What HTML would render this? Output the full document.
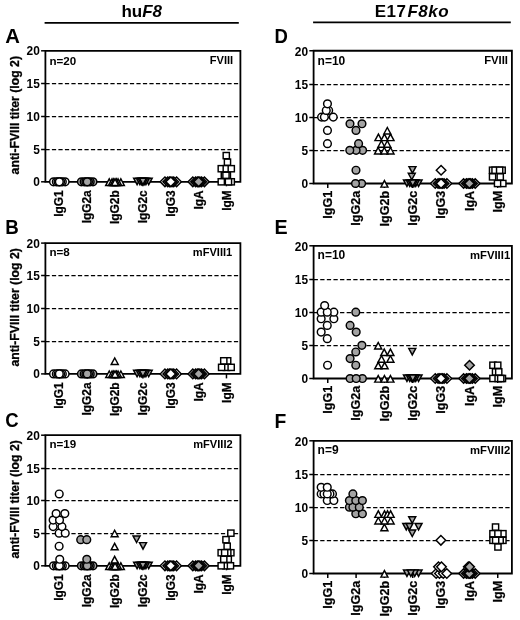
<!DOCTYPE html>
<html lang="en"><head><meta charset="utf-8"><title>anti-FVIII titers</title>
<style>html,body{margin:0;padding:0;background:#fff}svg{display:block;filter:blur(0.3px)}</style></head>
<body>
<svg width="520" height="620" viewBox="0 0 520 620" font-family="'Liberation Sans', Arial, sans-serif" font-weight="bold" fill="#000">
<rect width="520" height="620" fill="#fff"/>
<line x1="44.6" y1="22.85" x2="238.8" y2="22.85" stroke="#000" stroke-width="1.8"/>
<line x1="313.1" y1="22.4" x2="510.8" y2="22.4" stroke="#000" stroke-width="1.8"/>
<text x="141.7" y="17" text-anchor="middle" font-size="17">hu<tspan font-style="italic">F8</tspan></text>
<text x="411.9" y="16.6" text-anchor="middle" font-size="17" letter-spacing="0.5">E17<tspan font-style="italic" dx="1">F8ko</tspan></text>
<line x1="45.40" y1="149.50" x2="238.90" y2="149.50" stroke="#000" stroke-width="1.25" stroke-dasharray="4.23 2.27"/>
<line x1="45.40" y1="116.50" x2="238.90" y2="116.50" stroke="#000" stroke-width="1.25" stroke-dasharray="4.23 2.27"/>
<line x1="45.40" y1="83.50" x2="238.90" y2="83.50" stroke="#000" stroke-width="1.25" stroke-dasharray="4.23 2.27"/>
<path d="M45.40 181.80L45.40 50.80L240.40 50.80L240.40 181.80Z" fill="none" stroke="#000" stroke-width="1.8"/>
<line x1="41.10" y1="181.80" x2="45.40" y2="181.80" stroke="#000" stroke-width="1.5"/>
<text x="39.80" y="186.35" text-anchor="end" font-size="11.9">0</text>
<line x1="41.10" y1="149.50" x2="45.40" y2="149.50" stroke="#000" stroke-width="1.5"/>
<text x="39.80" y="154.05" text-anchor="end" font-size="11.9">5</text>
<line x1="41.10" y1="116.50" x2="45.40" y2="116.50" stroke="#000" stroke-width="1.5"/>
<text x="39.80" y="121.05" text-anchor="end" font-size="11.9">10</text>
<line x1="41.10" y1="83.50" x2="45.40" y2="83.50" stroke="#000" stroke-width="1.5"/>
<text x="39.80" y="88.05" text-anchor="end" font-size="11.9">15</text>
<line x1="41.10" y1="50.80" x2="45.40" y2="50.80" stroke="#000" stroke-width="1.5"/>
<text x="39.80" y="55.35" text-anchor="end" font-size="11.9">20</text>
<line x1="59.33" y1="181.80" x2="59.33" y2="186.30" stroke="#000" stroke-width="1.5"/>
<text transform="translate(63.43 190.30) rotate(-90)" text-anchor="end" font-size="11.9" stroke="#000" stroke-width="0.25">IgG1</text>
<line x1="87.19" y1="181.80" x2="87.19" y2="186.30" stroke="#000" stroke-width="1.5"/>
<text transform="translate(91.29 190.30) rotate(-90)" text-anchor="end" font-size="11.9" stroke="#000" stroke-width="0.25">IgG2a</text>
<line x1="115.04" y1="181.80" x2="115.04" y2="186.30" stroke="#000" stroke-width="1.5"/>
<text transform="translate(119.15 190.30) rotate(-90)" text-anchor="end" font-size="11.9" stroke="#000" stroke-width="0.25">IgG2b</text>
<line x1="142.90" y1="181.80" x2="142.90" y2="186.30" stroke="#000" stroke-width="1.5"/>
<text transform="translate(147.01 190.30) rotate(-90)" text-anchor="end" font-size="11.9" stroke="#000" stroke-width="0.25">IgG2c</text>
<line x1="170.76" y1="181.80" x2="170.76" y2="186.30" stroke="#000" stroke-width="1.5"/>
<text transform="translate(174.86 190.30) rotate(-90)" text-anchor="end" font-size="11.9" stroke="#000" stroke-width="0.25">IgG3</text>
<line x1="198.61" y1="181.80" x2="198.61" y2="186.30" stroke="#000" stroke-width="1.5"/>
<text transform="translate(202.72 190.30) rotate(-90)" text-anchor="end" font-size="11.9" stroke="#000" stroke-width="0.25">IgA</text>
<line x1="226.47" y1="181.80" x2="226.47" y2="186.30" stroke="#000" stroke-width="1.5"/>
<text transform="translate(230.58 190.30) rotate(-90)" text-anchor="end" font-size="11.9" stroke="#000" stroke-width="0.25">IgM</text>
<text transform="translate(18.90 115.20) rotate(-90)" text-anchor="middle" font-size="12.25" stroke="#000" stroke-width="0.3">anti-FVIII titer (log 2)</text>
<text x="49.40" y="64.60" font-size="11.6">n=20</text>
<text x="233.20" y="64.00" text-anchor="end" font-size="11.1">FVIII</text>
<text transform="translate(5.20 42.75) scale(1.05 1)" font-size="19.3">A</text>
<g stroke="#000" stroke-width="1.45" stroke-linejoin="miter">
<circle cx="53.53" cy="181.80" r="3.85" fill="#fff"/>
<circle cx="65.13" cy="181.80" r="3.85" fill="#fff"/>
<circle cx="56.33" cy="181.80" r="3.85" fill="#fff"/>
<circle cx="62.33" cy="181.80" r="3.85" fill="#fff"/>
<circle cx="58.03" cy="181.80" r="3.85" fill="#fff"/>
<circle cx="60.63" cy="181.80" r="3.85" fill="#fff"/>
<circle cx="59.33" cy="181.80" r="3.85" fill="#fff"/>
<circle cx="81.39" cy="181.80" r="3.85" fill="#a3a3a3"/>
<circle cx="92.99" cy="181.80" r="3.85" fill="#a3a3a3"/>
<circle cx="84.19" cy="181.80" r="3.85" fill="#a3a3a3"/>
<circle cx="90.19" cy="181.80" r="3.85" fill="#a3a3a3"/>
<circle cx="85.89" cy="181.80" r="3.85" fill="#a3a3a3"/>
<circle cx="88.49" cy="181.80" r="3.85" fill="#a3a3a3"/>
<circle cx="87.19" cy="181.80" r="3.85" fill="#a3a3a3"/>
<path d="M105.74 185.40L109.24 178.90L112.74 185.40Z" fill="#fff"/>
<path d="M117.34 185.40L120.84 178.90L124.34 185.40Z" fill="#fff"/>
<path d="M108.54 185.40L112.04 178.90L115.54 185.40Z" fill="#fff"/>
<path d="M114.54 185.40L118.04 178.90L121.54 185.40Z" fill="#fff"/>
<path d="M110.24 185.40L113.74 178.90L117.24 185.40Z" fill="#fff"/>
<path d="M112.84 185.40L116.34 178.90L119.84 185.40Z" fill="#fff"/>
<path d="M111.54 185.40L115.04 178.90L118.54 185.40Z" fill="#fff"/>
<path d="M133.60 178.20L137.10 184.70L140.60 178.20Z" fill="#a3a3a3"/>
<path d="M145.20 178.20L148.70 184.70L152.20 178.20Z" fill="#a3a3a3"/>
<path d="M136.40 178.20L139.90 184.70L143.40 178.20Z" fill="#a3a3a3"/>
<path d="M142.40 178.20L145.90 184.70L149.40 178.20Z" fill="#a3a3a3"/>
<path d="M138.10 178.20L141.60 184.70L145.10 178.20Z" fill="#a3a3a3"/>
<path d="M140.70 178.20L144.20 184.70L147.70 178.20Z" fill="#a3a3a3"/>
<path d="M139.40 178.20L142.90 184.70L146.40 178.20Z" fill="#a3a3a3"/>
<path d="M160.16 181.80L164.96 177.00L169.76 181.80L164.96 186.60Z" fill="#fff"/>
<path d="M171.76 181.80L176.56 177.00L181.36 181.80L176.56 186.60Z" fill="#fff"/>
<path d="M162.96 181.80L167.76 177.00L172.56 181.80L167.76 186.60Z" fill="#fff"/>
<path d="M168.96 181.80L173.76 177.00L178.56 181.80L173.76 186.60Z" fill="#fff"/>
<path d="M164.66 181.80L169.46 177.00L174.26 181.80L169.46 186.60Z" fill="#fff"/>
<path d="M167.26 181.80L172.06 177.00L176.86 181.80L172.06 186.60Z" fill="#fff"/>
<path d="M165.96 181.80L170.76 177.00L175.56 181.80L170.76 186.60Z" fill="#fff"/>
<path d="M188.01 181.80L192.81 177.00L197.61 181.80L192.81 186.60Z" fill="#a3a3a3"/>
<path d="M199.61 181.80L204.41 177.00L209.21 181.80L204.41 186.60Z" fill="#a3a3a3"/>
<path d="M190.81 181.80L195.61 177.00L200.41 181.80L195.61 186.60Z" fill="#a3a3a3"/>
<path d="M196.81 181.80L201.61 177.00L206.41 181.80L201.61 186.60Z" fill="#a3a3a3"/>
<path d="M192.51 181.80L197.31 177.00L202.11 181.80L197.31 186.60Z" fill="#a3a3a3"/>
<path d="M195.11 181.80L199.91 177.00L204.71 181.80L199.91 186.60Z" fill="#a3a3a3"/>
<path d="M193.81 181.80L198.61 177.00L203.41 181.80L198.61 186.60Z" fill="#a3a3a3"/>
<rect x="228.17" y="178.70" width="6.2" height="6.2" fill="#fff"/>
<rect x="225.37" y="178.70" width="6.2" height="6.2" fill="#fff"/>
<rect x="218.17" y="178.70" width="6.2" height="6.2" fill="#fff"/>
<rect x="221.27" y="172.15" width="6.2" height="6.2" fill="#fff"/>
<rect x="224.27" y="172.15" width="6.2" height="6.2" fill="#fff"/>
<rect x="222.87" y="172.15" width="6.2" height="6.2" fill="#fff"/>
<rect x="218.17" y="165.60" width="6.2" height="6.2" fill="#fff"/>
<rect x="223.17" y="165.60" width="6.2" height="6.2" fill="#fff"/>
<rect x="228.17" y="165.60" width="6.2" height="6.2" fill="#fff"/>
<rect x="224.37" y="159.05" width="6.2" height="6.2" fill="#fff"/>
<rect x="223.17" y="152.50" width="6.2" height="6.2" fill="#fff"/>
</g>
<line x1="45.40" y1="341.50" x2="238.90" y2="341.50" stroke="#000" stroke-width="1.25" stroke-dasharray="4.23 2.27"/>
<line x1="45.40" y1="308.50" x2="238.90" y2="308.50" stroke="#000" stroke-width="1.25" stroke-dasharray="4.23 2.27"/>
<line x1="45.40" y1="275.50" x2="238.90" y2="275.50" stroke="#000" stroke-width="1.25" stroke-dasharray="4.23 2.27"/>
<path d="M45.40 373.90L45.40 243.10L240.40 243.10L240.40 373.90Z" fill="none" stroke="#000" stroke-width="1.8"/>
<line x1="41.10" y1="373.90" x2="45.40" y2="373.90" stroke="#000" stroke-width="1.5"/>
<text x="39.80" y="378.45" text-anchor="end" font-size="11.9">0</text>
<line x1="41.10" y1="341.50" x2="45.40" y2="341.50" stroke="#000" stroke-width="1.5"/>
<text x="39.80" y="346.05" text-anchor="end" font-size="11.9">5</text>
<line x1="41.10" y1="308.50" x2="45.40" y2="308.50" stroke="#000" stroke-width="1.5"/>
<text x="39.80" y="313.05" text-anchor="end" font-size="11.9">10</text>
<line x1="41.10" y1="275.50" x2="45.40" y2="275.50" stroke="#000" stroke-width="1.5"/>
<text x="39.80" y="280.05" text-anchor="end" font-size="11.9">15</text>
<line x1="41.10" y1="243.10" x2="45.40" y2="243.10" stroke="#000" stroke-width="1.5"/>
<text x="39.80" y="247.65" text-anchor="end" font-size="11.9">20</text>
<line x1="59.33" y1="373.90" x2="59.33" y2="378.40" stroke="#000" stroke-width="1.5"/>
<text transform="translate(63.43 382.40) rotate(-90)" text-anchor="end" font-size="11.9" stroke="#000" stroke-width="0.25">IgG1</text>
<line x1="87.19" y1="373.90" x2="87.19" y2="378.40" stroke="#000" stroke-width="1.5"/>
<text transform="translate(91.29 382.40) rotate(-90)" text-anchor="end" font-size="11.9" stroke="#000" stroke-width="0.25">IgG2a</text>
<line x1="115.04" y1="373.90" x2="115.04" y2="378.40" stroke="#000" stroke-width="1.5"/>
<text transform="translate(119.15 382.40) rotate(-90)" text-anchor="end" font-size="11.9" stroke="#000" stroke-width="0.25">IgG2b</text>
<line x1="142.90" y1="373.90" x2="142.90" y2="378.40" stroke="#000" stroke-width="1.5"/>
<text transform="translate(147.01 382.40) rotate(-90)" text-anchor="end" font-size="11.9" stroke="#000" stroke-width="0.25">IgG2c</text>
<line x1="170.76" y1="373.90" x2="170.76" y2="378.40" stroke="#000" stroke-width="1.5"/>
<text transform="translate(174.86 382.40) rotate(-90)" text-anchor="end" font-size="11.9" stroke="#000" stroke-width="0.25">IgG3</text>
<line x1="198.61" y1="373.90" x2="198.61" y2="378.40" stroke="#000" stroke-width="1.5"/>
<text transform="translate(202.72 382.40) rotate(-90)" text-anchor="end" font-size="11.9" stroke="#000" stroke-width="0.25">IgA</text>
<line x1="226.47" y1="373.90" x2="226.47" y2="378.40" stroke="#000" stroke-width="1.5"/>
<text transform="translate(230.58 382.40) rotate(-90)" text-anchor="end" font-size="11.9" stroke="#000" stroke-width="0.25">IgM</text>
<text transform="translate(18.90 307.40) rotate(-90)" text-anchor="middle" font-size="12.25" stroke="#000" stroke-width="0.3">anti-FVIII titer (log 2)</text>
<text x="49.40" y="255.70" font-size="11.6">n=8</text>
<text x="232.30" y="256.30" text-anchor="end" font-size="11.1">mFVIII1</text>
<text transform="translate(5.20 234.10) scale(0.97 1)" font-size="19.3">B</text>
<g stroke="#000" stroke-width="1.45" stroke-linejoin="miter">
<circle cx="53.53" cy="373.90" r="3.85" fill="#fff"/>
<circle cx="65.13" cy="373.90" r="3.85" fill="#fff"/>
<circle cx="56.33" cy="373.90" r="3.85" fill="#fff"/>
<circle cx="62.33" cy="373.90" r="3.85" fill="#fff"/>
<circle cx="58.03" cy="373.90" r="3.85" fill="#fff"/>
<circle cx="60.63" cy="373.90" r="3.85" fill="#fff"/>
<circle cx="59.33" cy="373.90" r="3.85" fill="#fff"/>
<circle cx="81.39" cy="373.90" r="3.85" fill="#a3a3a3"/>
<circle cx="92.99" cy="373.90" r="3.85" fill="#a3a3a3"/>
<circle cx="84.19" cy="373.90" r="3.85" fill="#a3a3a3"/>
<circle cx="90.19" cy="373.90" r="3.85" fill="#a3a3a3"/>
<circle cx="85.89" cy="373.90" r="3.85" fill="#a3a3a3"/>
<circle cx="88.49" cy="373.90" r="3.85" fill="#a3a3a3"/>
<circle cx="87.19" cy="373.90" r="3.85" fill="#a3a3a3"/>
<path d="M105.74 377.50L109.24 371.00L112.74 377.50Z" fill="#fff"/>
<path d="M117.34 377.50L120.84 371.00L124.34 377.50Z" fill="#fff"/>
<path d="M108.54 377.50L112.04 371.00L115.54 377.50Z" fill="#fff"/>
<path d="M114.54 377.50L118.04 371.00L121.54 377.50Z" fill="#fff"/>
<path d="M110.24 377.50L113.74 371.00L117.24 377.50Z" fill="#fff"/>
<path d="M112.84 377.50L116.34 371.00L119.84 377.50Z" fill="#fff"/>
<path d="M111.54 377.50L115.04 371.00L118.54 377.50Z" fill="#fff"/>
<path d="M111.24 364.42L114.74 357.92L118.24 364.42Z" fill="#fff"/>
<path d="M133.60 370.30L137.10 376.80L140.60 370.30Z" fill="#a3a3a3"/>
<path d="M145.20 370.30L148.70 376.80L152.20 370.30Z" fill="#a3a3a3"/>
<path d="M136.40 370.30L139.90 376.80L143.40 370.30Z" fill="#a3a3a3"/>
<path d="M142.40 370.30L145.90 376.80L149.40 370.30Z" fill="#a3a3a3"/>
<path d="M138.10 370.30L141.60 376.80L145.10 370.30Z" fill="#a3a3a3"/>
<path d="M140.70 370.30L144.20 376.80L147.70 370.30Z" fill="#a3a3a3"/>
<path d="M139.40 370.30L142.90 376.80L146.40 370.30Z" fill="#a3a3a3"/>
<path d="M160.16 373.90L164.96 369.10L169.76 373.90L164.96 378.70Z" fill="#fff"/>
<path d="M171.76 373.90L176.56 369.10L181.36 373.90L176.56 378.70Z" fill="#fff"/>
<path d="M162.96 373.90L167.76 369.10L172.56 373.90L167.76 378.70Z" fill="#fff"/>
<path d="M168.96 373.90L173.76 369.10L178.56 373.90L173.76 378.70Z" fill="#fff"/>
<path d="M164.66 373.90L169.46 369.10L174.26 373.90L169.46 378.70Z" fill="#fff"/>
<path d="M167.26 373.90L172.06 369.10L176.86 373.90L172.06 378.70Z" fill="#fff"/>
<path d="M165.96 373.90L170.76 369.10L175.56 373.90L170.76 378.70Z" fill="#fff"/>
<path d="M188.01 373.90L192.81 369.10L197.61 373.90L192.81 378.70Z" fill="#a3a3a3"/>
<path d="M199.61 373.90L204.41 369.10L209.21 373.90L204.41 378.70Z" fill="#a3a3a3"/>
<path d="M190.81 373.90L195.61 369.10L200.41 373.90L195.61 378.70Z" fill="#a3a3a3"/>
<path d="M196.81 373.90L201.61 369.10L206.41 373.90L201.61 378.70Z" fill="#a3a3a3"/>
<path d="M192.51 373.90L197.31 369.10L202.11 373.90L197.31 378.70Z" fill="#a3a3a3"/>
<path d="M195.11 373.90L199.91 369.10L204.71 373.90L199.91 378.70Z" fill="#a3a3a3"/>
<path d="M193.81 373.90L198.61 369.10L203.41 373.90L198.61 378.70Z" fill="#a3a3a3"/>
<rect x="223.27" y="364.26" width="6.2" height="6.2" fill="#fff"/>
<rect x="218.52" y="364.26" width="6.2" height="6.2" fill="#fff"/>
<rect x="228.07" y="364.26" width="6.2" height="6.2" fill="#fff"/>
<rect x="224.57" y="357.72" width="6.2" height="6.2" fill="#fff"/>
<rect x="220.67" y="357.72" width="6.2" height="6.2" fill="#fff"/>
</g>
<line x1="45.40" y1="533.50" x2="238.90" y2="533.50" stroke="#000" stroke-width="1.25" stroke-dasharray="4.23 2.27"/>
<line x1="45.40" y1="500.50" x2="238.90" y2="500.50" stroke="#000" stroke-width="1.25" stroke-dasharray="4.23 2.27"/>
<line x1="45.40" y1="468.50" x2="238.90" y2="468.50" stroke="#000" stroke-width="1.25" stroke-dasharray="4.23 2.27"/>
<path d="M45.40 565.80L45.40 435.20L240.40 435.20L240.40 565.80Z" fill="none" stroke="#000" stroke-width="1.8"/>
<line x1="41.10" y1="565.80" x2="45.40" y2="565.80" stroke="#000" stroke-width="1.5"/>
<text x="39.80" y="570.35" text-anchor="end" font-size="11.9">0</text>
<line x1="41.10" y1="533.50" x2="45.40" y2="533.50" stroke="#000" stroke-width="1.5"/>
<text x="39.80" y="538.05" text-anchor="end" font-size="11.9">5</text>
<line x1="41.10" y1="500.50" x2="45.40" y2="500.50" stroke="#000" stroke-width="1.5"/>
<text x="39.80" y="505.05" text-anchor="end" font-size="11.9">10</text>
<line x1="41.10" y1="468.50" x2="45.40" y2="468.50" stroke="#000" stroke-width="1.5"/>
<text x="39.80" y="473.05" text-anchor="end" font-size="11.9">15</text>
<line x1="41.10" y1="435.20" x2="45.40" y2="435.20" stroke="#000" stroke-width="1.5"/>
<text x="39.80" y="439.75" text-anchor="end" font-size="11.9">20</text>
<line x1="59.33" y1="565.80" x2="59.33" y2="570.30" stroke="#000" stroke-width="1.5"/>
<text transform="translate(63.43 574.30) rotate(-90)" text-anchor="end" font-size="11.9" stroke="#000" stroke-width="0.25">IgG1</text>
<line x1="87.19" y1="565.80" x2="87.19" y2="570.30" stroke="#000" stroke-width="1.5"/>
<text transform="translate(91.29 574.30) rotate(-90)" text-anchor="end" font-size="11.9" stroke="#000" stroke-width="0.25">IgG2a</text>
<line x1="115.04" y1="565.80" x2="115.04" y2="570.30" stroke="#000" stroke-width="1.5"/>
<text transform="translate(119.15 574.30) rotate(-90)" text-anchor="end" font-size="11.9" stroke="#000" stroke-width="0.25">IgG2b</text>
<line x1="142.90" y1="565.80" x2="142.90" y2="570.30" stroke="#000" stroke-width="1.5"/>
<text transform="translate(147.01 574.30) rotate(-90)" text-anchor="end" font-size="11.9" stroke="#000" stroke-width="0.25">IgG2c</text>
<line x1="170.76" y1="565.80" x2="170.76" y2="570.30" stroke="#000" stroke-width="1.5"/>
<text transform="translate(174.86 574.30) rotate(-90)" text-anchor="end" font-size="11.9" stroke="#000" stroke-width="0.25">IgG3</text>
<line x1="198.61" y1="565.80" x2="198.61" y2="570.30" stroke="#000" stroke-width="1.5"/>
<text transform="translate(202.72 574.30) rotate(-90)" text-anchor="end" font-size="11.9" stroke="#000" stroke-width="0.25">IgA</text>
<line x1="226.47" y1="565.80" x2="226.47" y2="570.30" stroke="#000" stroke-width="1.5"/>
<text transform="translate(230.58 574.30) rotate(-90)" text-anchor="end" font-size="11.9" stroke="#000" stroke-width="0.25">IgM</text>
<text transform="translate(18.90 499.40) rotate(-90)" text-anchor="middle" font-size="12.25" stroke="#000" stroke-width="0.3">anti-FVIII titer (log 2)</text>
<text x="49.40" y="447.80" font-size="11.6">n=19</text>
<text x="232.70" y="448.40" text-anchor="end" font-size="11.1">mFVIII2</text>
<text transform="translate(5.20 427.40) scale(0.96 1)" font-size="19.3">C</text>
<g stroke="#000" stroke-width="1.45" stroke-linejoin="miter">
<circle cx="53.53" cy="565.80" r="3.85" fill="#fff"/>
<circle cx="65.13" cy="565.80" r="3.85" fill="#fff"/>
<circle cx="56.33" cy="565.80" r="3.85" fill="#fff"/>
<circle cx="62.33" cy="565.80" r="3.85" fill="#fff"/>
<circle cx="58.03" cy="565.80" r="3.85" fill="#fff"/>
<circle cx="60.63" cy="565.80" r="3.85" fill="#fff"/>
<circle cx="59.33" cy="565.80" r="3.85" fill="#fff"/>
<circle cx="59.73" cy="559.27" r="3.85" fill="#fff"/>
<circle cx="59.13" cy="546.21" r="3.85" fill="#fff"/>
<circle cx="59.13" cy="533.15" r="3.85" fill="#fff"/>
<circle cx="65.23" cy="533.15" r="3.85" fill="#fff"/>
<circle cx="53.13" cy="526.62" r="3.85" fill="#fff"/>
<circle cx="61.93" cy="526.62" r="3.85" fill="#fff"/>
<circle cx="53.13" cy="520.09" r="3.85" fill="#fff"/>
<circle cx="59.53" cy="520.09" r="3.85" fill="#fff"/>
<circle cx="56.13" cy="513.56" r="3.85" fill="#fff"/>
<circle cx="64.83" cy="513.56" r="3.85" fill="#fff"/>
<circle cx="59.23" cy="493.97" r="3.85" fill="#fff"/>
<circle cx="81.39" cy="565.80" r="3.85" fill="#a3a3a3"/>
<circle cx="92.99" cy="565.80" r="3.85" fill="#a3a3a3"/>
<circle cx="84.19" cy="565.80" r="3.85" fill="#a3a3a3"/>
<circle cx="90.19" cy="565.80" r="3.85" fill="#a3a3a3"/>
<circle cx="85.89" cy="565.80" r="3.85" fill="#a3a3a3"/>
<circle cx="88.49" cy="565.80" r="3.85" fill="#a3a3a3"/>
<circle cx="87.19" cy="565.80" r="3.85" fill="#a3a3a3"/>
<circle cx="86.79" cy="559.27" r="3.85" fill="#a3a3a3"/>
<circle cx="80.69" cy="539.68" r="3.85" fill="#a3a3a3"/>
<circle cx="86.79" cy="539.68" r="3.85" fill="#a3a3a3"/>
<path d="M105.74 569.40L109.24 562.90L112.74 569.40Z" fill="#fff"/>
<path d="M117.34 569.40L120.84 562.90L124.34 569.40Z" fill="#fff"/>
<path d="M108.54 569.40L112.04 562.90L115.54 569.40Z" fill="#fff"/>
<path d="M114.54 569.40L118.04 562.90L121.54 569.40Z" fill="#fff"/>
<path d="M110.24 569.40L113.74 562.90L117.24 569.40Z" fill="#fff"/>
<path d="M112.84 569.40L116.34 562.90L119.84 569.40Z" fill="#fff"/>
<path d="M111.54 569.40L115.04 562.90L118.54 569.40Z" fill="#fff"/>
<path d="M111.14 562.87L114.64 556.37L118.14 562.87Z" fill="#fff"/>
<path d="M111.14 549.81L114.64 543.31L118.14 549.81Z" fill="#fff"/>
<path d="M111.14 536.75L114.64 530.25L118.14 536.75Z" fill="#fff"/>
<path d="M133.60 562.20L137.10 568.70L140.60 562.20Z" fill="#a3a3a3"/>
<path d="M145.20 562.20L148.70 568.70L152.20 562.20Z" fill="#a3a3a3"/>
<path d="M136.40 562.20L139.90 568.70L143.40 562.20Z" fill="#a3a3a3"/>
<path d="M142.40 562.20L145.90 568.70L149.40 562.20Z" fill="#a3a3a3"/>
<path d="M138.10 562.20L141.60 568.70L145.10 562.20Z" fill="#a3a3a3"/>
<path d="M140.70 562.20L144.20 568.70L147.70 562.20Z" fill="#a3a3a3"/>
<path d="M139.40 562.20L142.90 568.70L146.40 562.20Z" fill="#a3a3a3"/>
<path d="M139.50 542.61L143.00 549.11L146.50 542.61Z" fill="#a3a3a3"/>
<path d="M133.10 536.08L136.60 542.58L140.10 536.08Z" fill="#a3a3a3"/>
<path d="M160.16 565.80L164.96 561.00L169.76 565.80L164.96 570.60Z" fill="#fff"/>
<path d="M171.76 565.80L176.56 561.00L181.36 565.80L176.56 570.60Z" fill="#fff"/>
<path d="M162.96 565.80L167.76 561.00L172.56 565.80L167.76 570.60Z" fill="#fff"/>
<path d="M168.96 565.80L173.76 561.00L178.56 565.80L173.76 570.60Z" fill="#fff"/>
<path d="M164.66 565.80L169.46 561.00L174.26 565.80L169.46 570.60Z" fill="#fff"/>
<path d="M167.26 565.80L172.06 561.00L176.86 565.80L172.06 570.60Z" fill="#fff"/>
<path d="M165.96 565.80L170.76 561.00L175.56 565.80L170.76 570.60Z" fill="#fff"/>
<path d="M188.01 565.80L192.81 561.00L197.61 565.80L192.81 570.60Z" fill="#a3a3a3"/>
<path d="M199.61 565.80L204.41 561.00L209.21 565.80L204.41 570.60Z" fill="#a3a3a3"/>
<path d="M190.81 565.80L195.61 561.00L200.41 565.80L195.61 570.60Z" fill="#a3a3a3"/>
<path d="M196.81 565.80L201.61 561.00L206.41 565.80L201.61 570.60Z" fill="#a3a3a3"/>
<path d="M192.51 565.80L197.31 561.00L202.11 565.80L197.31 570.60Z" fill="#a3a3a3"/>
<path d="M195.11 565.80L199.91 561.00L204.71 565.80L199.91 570.60Z" fill="#a3a3a3"/>
<path d="M193.81 565.80L198.61 561.00L203.41 565.80L198.61 570.60Z" fill="#a3a3a3"/>
<rect x="222.87" y="562.70" width="6.2" height="6.2" fill="#fff"/>
<rect x="218.07" y="562.70" width="6.2" height="6.2" fill="#fff"/>
<rect x="227.37" y="562.70" width="6.2" height="6.2" fill="#fff"/>
<rect x="225.17" y="556.17" width="6.2" height="6.2" fill="#fff"/>
<rect x="220.67" y="556.17" width="6.2" height="6.2" fill="#fff"/>
<rect x="218.07" y="549.64" width="6.2" height="6.2" fill="#fff"/>
<rect x="227.77" y="549.64" width="6.2" height="6.2" fill="#fff"/>
<rect x="224.67" y="549.64" width="6.2" height="6.2" fill="#fff"/>
<rect x="221.57" y="549.64" width="6.2" height="6.2" fill="#fff"/>
<rect x="224.07" y="543.11" width="6.2" height="6.2" fill="#fff"/>
<rect x="222.87" y="536.58" width="6.2" height="6.2" fill="#fff"/>
<rect x="227.77" y="530.05" width="6.2" height="6.2" fill="#fff"/>
</g>
<line x1="313.60" y1="150.50" x2="510.40" y2="150.50" stroke="#000" stroke-width="1.25" stroke-dasharray="4.30 2.31"/>
<line x1="313.60" y1="117.50" x2="510.40" y2="117.50" stroke="#000" stroke-width="1.25" stroke-dasharray="4.30 2.31"/>
<line x1="313.60" y1="84.50" x2="510.40" y2="84.50" stroke="#000" stroke-width="1.25" stroke-dasharray="4.30 2.31"/>
<path d="M313.60 183.50L313.60 50.75L511.90 50.75L511.90 183.50Z" fill="none" stroke="#000" stroke-width="1.8"/>
<line x1="309.30" y1="183.50" x2="313.60" y2="183.50" stroke="#000" stroke-width="1.5"/>
<text x="308.00" y="188.45" text-anchor="end" font-size="11.9">0</text>
<line x1="309.30" y1="150.50" x2="313.60" y2="150.50" stroke="#000" stroke-width="1.5"/>
<text x="308.00" y="155.45" text-anchor="end" font-size="11.9">5</text>
<line x1="309.30" y1="117.50" x2="313.60" y2="117.50" stroke="#000" stroke-width="1.5"/>
<text x="308.00" y="122.45" text-anchor="end" font-size="11.9">10</text>
<line x1="309.30" y1="84.50" x2="313.60" y2="84.50" stroke="#000" stroke-width="1.5"/>
<text x="308.00" y="89.45" text-anchor="end" font-size="11.9">15</text>
<line x1="309.30" y1="50.75" x2="313.60" y2="50.75" stroke="#000" stroke-width="1.5"/>
<text x="308.00" y="55.70" text-anchor="end" font-size="11.9">20</text>
<line x1="327.76" y1="183.50" x2="327.76" y2="188.00" stroke="#000" stroke-width="1.5"/>
<text transform="translate(332.11 190.80) rotate(-90)" text-anchor="end" font-size="12.6" stroke="#000" stroke-width="0.25">IgG1</text>
<line x1="356.09" y1="183.50" x2="356.09" y2="188.00" stroke="#000" stroke-width="1.5"/>
<text transform="translate(360.44 190.80) rotate(-90)" text-anchor="end" font-size="12.6" stroke="#000" stroke-width="0.25">IgG2a</text>
<line x1="384.42" y1="183.50" x2="384.42" y2="188.00" stroke="#000" stroke-width="1.5"/>
<text transform="translate(388.77 190.80) rotate(-90)" text-anchor="end" font-size="12.6" stroke="#000" stroke-width="0.25">IgG2b</text>
<line x1="412.75" y1="183.50" x2="412.75" y2="188.00" stroke="#000" stroke-width="1.5"/>
<text transform="translate(417.10 190.80) rotate(-90)" text-anchor="end" font-size="12.6" stroke="#000" stroke-width="0.25">IgG2c</text>
<line x1="441.08" y1="183.50" x2="441.08" y2="188.00" stroke="#000" stroke-width="1.5"/>
<text transform="translate(445.43 190.80) rotate(-90)" text-anchor="end" font-size="12.6" stroke="#000" stroke-width="0.25">IgG3</text>
<line x1="469.41" y1="183.50" x2="469.41" y2="188.00" stroke="#000" stroke-width="1.5"/>
<text transform="translate(473.75 190.80) rotate(-90)" text-anchor="end" font-size="12.6" stroke="#000" stroke-width="0.25">IgA</text>
<line x1="497.74" y1="183.50" x2="497.74" y2="188.00" stroke="#000" stroke-width="1.5"/>
<text transform="translate(502.08 190.80) rotate(-90)" text-anchor="end" font-size="12.6" stroke="#000" stroke-width="0.25">IgM</text>
<text x="317.60" y="64.75" font-size="12.0">n=10</text>
<text x="508.00" y="63.95" text-anchor="end" font-size="11.3">FVIII</text>
<text transform="translate(274.60 42.85) scale(0.96 1)" font-size="19.3">D</text>
<g stroke="#000" stroke-width="1.45" stroke-linejoin="miter">
<circle cx="327.46" cy="143.68" r="3.85" fill="#fff"/>
<circle cx="327.46" cy="130.40" r="3.85" fill="#fff"/>
<circle cx="321.56" cy="117.12" r="3.85" fill="#fff"/>
<circle cx="324.36" cy="117.12" r="3.85" fill="#fff"/>
<circle cx="333.26" cy="117.12" r="3.85" fill="#fff"/>
<circle cx="328.66" cy="110.49" r="3.85" fill="#fff"/>
<circle cx="326.26" cy="110.49" r="3.85" fill="#fff"/>
<circle cx="327.46" cy="103.85" r="3.85" fill="#fff"/>
<circle cx="361.59" cy="183.50" r="3.85" fill="#a3a3a3"/>
<circle cx="355.49" cy="183.50" r="3.85" fill="#a3a3a3"/>
<circle cx="355.99" cy="170.22" r="3.85" fill="#a3a3a3"/>
<circle cx="362.59" cy="150.31" r="3.85" fill="#a3a3a3"/>
<circle cx="356.09" cy="150.31" r="3.85" fill="#a3a3a3"/>
<circle cx="349.79" cy="150.31" r="3.85" fill="#a3a3a3"/>
<circle cx="358.59" cy="143.68" r="3.85" fill="#a3a3a3"/>
<circle cx="355.99" cy="130.40" r="3.85" fill="#a3a3a3"/>
<circle cx="349.99" cy="123.76" r="3.85" fill="#a3a3a3"/>
<circle cx="361.99" cy="123.76" r="3.85" fill="#a3a3a3"/>
<path d="M380.92 187.10L384.42 180.60L387.92 187.10Z" fill="#fff"/>
<path d="M374.62 153.91L378.12 147.41L381.62 153.91Z" fill="#fff"/>
<path d="M387.02 153.91L390.52 147.41L394.02 153.91Z" fill="#fff"/>
<path d="M380.82 153.91L384.32 147.41L387.82 153.91Z" fill="#fff"/>
<path d="M377.92 147.28L381.42 140.78L384.92 147.28Z" fill="#fff"/>
<path d="M383.82 147.28L387.32 140.78L390.82 147.28Z" fill="#fff"/>
<path d="M374.92 140.64L378.42 134.14L381.92 140.64Z" fill="#fff"/>
<path d="M380.92 140.64L384.42 134.14L387.92 140.64Z" fill="#fff"/>
<path d="M387.02 140.64L390.52 134.14L394.02 140.64Z" fill="#fff"/>
<path d="M383.82 134.00L387.32 127.50L390.82 134.00Z" fill="#fff"/>
<path d="M403.45 179.90L406.95 186.40L410.45 179.90Z" fill="#a3a3a3"/>
<path d="M415.05 179.90L418.55 186.40L422.05 179.90Z" fill="#a3a3a3"/>
<path d="M406.25 179.90L409.75 186.40L413.25 179.90Z" fill="#a3a3a3"/>
<path d="M412.25 179.90L415.75 186.40L419.25 179.90Z" fill="#a3a3a3"/>
<path d="M407.95 179.90L411.45 186.40L414.95 179.90Z" fill="#a3a3a3"/>
<path d="M410.55 179.90L414.05 186.40L417.55 179.90Z" fill="#a3a3a3"/>
<path d="M409.25 179.90L412.75 186.40L416.25 179.90Z" fill="#a3a3a3"/>
<path d="M408.25 173.26L411.75 179.76L415.25 173.26Z" fill="#a3a3a3"/>
<path d="M408.95 166.62L412.45 173.12L415.95 166.62Z" fill="#a3a3a3"/>
<path d="M430.48 183.50L435.28 178.70L440.08 183.50L435.28 188.30Z" fill="#fff"/>
<path d="M442.08 183.50L446.88 178.70L451.68 183.50L446.88 188.30Z" fill="#fff"/>
<path d="M433.28 183.50L438.08 178.70L442.88 183.50L438.08 188.30Z" fill="#fff"/>
<path d="M439.28 183.50L444.08 178.70L448.88 183.50L444.08 188.30Z" fill="#fff"/>
<path d="M434.98 183.50L439.78 178.70L444.58 183.50L439.78 188.30Z" fill="#fff"/>
<path d="M437.58 183.50L442.38 178.70L447.18 183.50L442.38 188.30Z" fill="#fff"/>
<path d="M436.28 183.50L441.08 178.70L445.88 183.50L441.08 188.30Z" fill="#fff"/>
<path d="M436.28 170.22L441.08 165.42L445.88 170.22L441.08 175.03Z" fill="#fff"/>
<path d="M458.81 183.50L463.61 178.70L468.41 183.50L463.61 188.30Z" fill="#a3a3a3"/>
<path d="M470.41 183.50L475.21 178.70L480.01 183.50L475.21 188.30Z" fill="#a3a3a3"/>
<path d="M461.61 183.50L466.41 178.70L471.21 183.50L466.41 188.30Z" fill="#a3a3a3"/>
<path d="M467.61 183.50L472.41 178.70L477.21 183.50L472.41 188.30Z" fill="#a3a3a3"/>
<path d="M463.31 183.50L468.11 178.70L472.91 183.50L468.11 188.30Z" fill="#a3a3a3"/>
<path d="M465.91 183.50L470.71 178.70L475.51 183.50L470.71 188.30Z" fill="#a3a3a3"/>
<path d="M464.61 183.50L469.41 178.70L474.21 183.50L469.41 188.30Z" fill="#a3a3a3"/>
<rect x="499.74" y="180.40" width="6.2" height="6.2" fill="#fff"/>
<rect x="494.44" y="180.40" width="6.2" height="6.2" fill="#fff"/>
<rect x="489.44" y="173.76" width="6.2" height="6.2" fill="#fff"/>
<rect x="497.14" y="173.76" width="6.2" height="6.2" fill="#fff"/>
<rect x="489.44" y="167.12" width="6.2" height="6.2" fill="#fff"/>
<rect x="491.94" y="167.12" width="6.2" height="6.2" fill="#fff"/>
<rect x="499.04" y="167.12" width="6.2" height="6.2" fill="#fff"/>
<rect x="496.54" y="167.12" width="6.2" height="6.2" fill="#fff"/>
</g>
<line x1="313.60" y1="345.50" x2="510.40" y2="345.50" stroke="#000" stroke-width="1.25" stroke-dasharray="4.30 2.31"/>
<line x1="313.60" y1="312.50" x2="510.40" y2="312.50" stroke="#000" stroke-width="1.25" stroke-dasharray="4.30 2.31"/>
<line x1="313.60" y1="279.50" x2="510.40" y2="279.50" stroke="#000" stroke-width="1.25" stroke-dasharray="4.30 2.31"/>
<path d="M313.60 378.50L313.60 245.80L511.90 245.80L511.90 378.50Z" fill="none" stroke="#000" stroke-width="1.8"/>
<line x1="309.30" y1="378.50" x2="313.60" y2="378.50" stroke="#000" stroke-width="1.5"/>
<text x="308.00" y="383.45" text-anchor="end" font-size="11.9">0</text>
<line x1="309.30" y1="345.50" x2="313.60" y2="345.50" stroke="#000" stroke-width="1.5"/>
<text x="308.00" y="350.45" text-anchor="end" font-size="11.9">5</text>
<line x1="309.30" y1="312.50" x2="313.60" y2="312.50" stroke="#000" stroke-width="1.5"/>
<text x="308.00" y="317.45" text-anchor="end" font-size="11.9">10</text>
<line x1="309.30" y1="279.50" x2="313.60" y2="279.50" stroke="#000" stroke-width="1.5"/>
<text x="308.00" y="284.45" text-anchor="end" font-size="11.9">15</text>
<line x1="309.30" y1="245.80" x2="313.60" y2="245.80" stroke="#000" stroke-width="1.5"/>
<text x="308.00" y="250.75" text-anchor="end" font-size="11.9">20</text>
<line x1="327.76" y1="378.50" x2="327.76" y2="383.00" stroke="#000" stroke-width="1.5"/>
<text transform="translate(332.11 385.80) rotate(-90)" text-anchor="end" font-size="12.6" stroke="#000" stroke-width="0.25">IgG1</text>
<line x1="356.09" y1="378.50" x2="356.09" y2="383.00" stroke="#000" stroke-width="1.5"/>
<text transform="translate(360.44 385.80) rotate(-90)" text-anchor="end" font-size="12.6" stroke="#000" stroke-width="0.25">IgG2a</text>
<line x1="384.42" y1="378.50" x2="384.42" y2="383.00" stroke="#000" stroke-width="1.5"/>
<text transform="translate(388.77 385.80) rotate(-90)" text-anchor="end" font-size="12.6" stroke="#000" stroke-width="0.25">IgG2b</text>
<line x1="412.75" y1="378.50" x2="412.75" y2="383.00" stroke="#000" stroke-width="1.5"/>
<text transform="translate(417.10 385.80) rotate(-90)" text-anchor="end" font-size="12.6" stroke="#000" stroke-width="0.25">IgG2c</text>
<line x1="441.08" y1="378.50" x2="441.08" y2="383.00" stroke="#000" stroke-width="1.5"/>
<text transform="translate(445.43 385.80) rotate(-90)" text-anchor="end" font-size="12.6" stroke="#000" stroke-width="0.25">IgG3</text>
<line x1="469.41" y1="378.50" x2="469.41" y2="383.00" stroke="#000" stroke-width="1.5"/>
<text transform="translate(473.75 385.80) rotate(-90)" text-anchor="end" font-size="12.6" stroke="#000" stroke-width="0.25">IgA</text>
<line x1="497.74" y1="378.50" x2="497.74" y2="383.00" stroke="#000" stroke-width="1.5"/>
<text transform="translate(502.08 385.80) rotate(-90)" text-anchor="end" font-size="12.6" stroke="#000" stroke-width="0.25">IgM</text>
<text x="317.60" y="259.40" font-size="12.0">n=10</text>
<text x="510.20" y="259.00" text-anchor="end" font-size="11.3">mFVIII1</text>
<text transform="translate(274.60 234.05) scale(1.02 1)" font-size="19.3">E</text>
<g stroke="#000" stroke-width="1.45" stroke-linejoin="miter">
<circle cx="327.56" cy="365.23" r="3.85" fill="#fff"/>
<circle cx="327.26" cy="338.69" r="3.85" fill="#fff"/>
<circle cx="321.16" cy="332.06" r="3.85" fill="#fff"/>
<circle cx="327.26" cy="325.42" r="3.85" fill="#fff"/>
<circle cx="321.16" cy="318.79" r="3.85" fill="#fff"/>
<circle cx="333.86" cy="318.79" r="3.85" fill="#fff"/>
<circle cx="321.16" cy="312.15" r="3.85" fill="#fff"/>
<circle cx="333.86" cy="312.15" r="3.85" fill="#fff"/>
<circle cx="327.26" cy="312.15" r="3.85" fill="#fff"/>
<circle cx="324.66" cy="305.51" r="3.85" fill="#fff"/>
<circle cx="350.09" cy="378.50" r="3.85" fill="#a3a3a3"/>
<circle cx="362.39" cy="378.50" r="3.85" fill="#a3a3a3"/>
<circle cx="356.19" cy="378.50" r="3.85" fill="#a3a3a3"/>
<circle cx="355.79" cy="365.23" r="3.85" fill="#a3a3a3"/>
<circle cx="350.09" cy="358.60" r="3.85" fill="#a3a3a3"/>
<circle cx="355.79" cy="351.96" r="3.85" fill="#a3a3a3"/>
<circle cx="361.89" cy="345.32" r="3.85" fill="#a3a3a3"/>
<circle cx="356.19" cy="332.06" r="3.85" fill="#a3a3a3"/>
<circle cx="350.09" cy="325.42" r="3.85" fill="#a3a3a3"/>
<circle cx="355.79" cy="312.15" r="3.85" fill="#a3a3a3"/>
<path d="M374.72 382.10L378.22 375.60L381.72 382.10Z" fill="#fff"/>
<path d="M380.92 382.10L384.42 375.60L387.92 382.10Z" fill="#fff"/>
<path d="M386.92 382.10L390.42 375.60L393.92 382.10Z" fill="#fff"/>
<path d="M374.72 368.83L378.22 362.33L381.72 368.83Z" fill="#fff"/>
<path d="M381.12 368.83L384.62 362.33L388.12 368.83Z" fill="#fff"/>
<path d="M378.02 362.20L381.52 355.70L385.02 362.20Z" fill="#fff"/>
<path d="M386.92 362.20L390.42 355.70L393.92 362.20Z" fill="#fff"/>
<path d="M380.72 355.56L384.22 349.06L387.72 355.56Z" fill="#fff"/>
<path d="M386.92 355.56L390.42 349.06L393.92 355.56Z" fill="#fff"/>
<path d="M374.72 348.93L378.22 342.43L381.72 348.93Z" fill="#fff"/>
<path d="M403.45 374.90L406.95 381.40L410.45 374.90Z" fill="#a3a3a3"/>
<path d="M415.05 374.90L418.55 381.40L422.05 374.90Z" fill="#a3a3a3"/>
<path d="M406.25 374.90L409.75 381.40L413.25 374.90Z" fill="#a3a3a3"/>
<path d="M412.25 374.90L415.75 381.40L419.25 374.90Z" fill="#a3a3a3"/>
<path d="M407.95 374.90L411.45 381.40L414.95 374.90Z" fill="#a3a3a3"/>
<path d="M410.55 374.90L414.05 381.40L417.55 374.90Z" fill="#a3a3a3"/>
<path d="M409.25 374.90L412.75 381.40L416.25 374.90Z" fill="#a3a3a3"/>
<path d="M408.75 348.36L412.25 354.86L415.75 348.36Z" fill="#a3a3a3"/>
<path d="M430.48 378.50L435.28 373.70L440.08 378.50L435.28 383.30Z" fill="#fff"/>
<path d="M442.08 378.50L446.88 373.70L451.68 378.50L446.88 383.30Z" fill="#fff"/>
<path d="M433.28 378.50L438.08 373.70L442.88 378.50L438.08 383.30Z" fill="#fff"/>
<path d="M439.28 378.50L444.08 373.70L448.88 378.50L444.08 383.30Z" fill="#fff"/>
<path d="M434.98 378.50L439.78 373.70L444.58 378.50L439.78 383.30Z" fill="#fff"/>
<path d="M437.58 378.50L442.38 373.70L447.18 378.50L442.38 383.30Z" fill="#fff"/>
<path d="M436.28 378.50L441.08 373.70L445.88 378.50L441.08 383.30Z" fill="#fff"/>
<path d="M458.81 378.50L463.61 373.70L468.41 378.50L463.61 383.30Z" fill="#a3a3a3"/>
<path d="M470.41 378.50L475.21 373.70L480.01 378.50L475.21 383.30Z" fill="#a3a3a3"/>
<path d="M461.61 378.50L466.41 373.70L471.21 378.50L466.41 383.30Z" fill="#a3a3a3"/>
<path d="M467.61 378.50L472.41 373.70L477.21 378.50L472.41 383.30Z" fill="#a3a3a3"/>
<path d="M463.31 378.50L468.11 373.70L472.91 378.50L468.11 383.30Z" fill="#a3a3a3"/>
<path d="M465.91 378.50L470.71 373.70L475.51 378.50L470.71 383.30Z" fill="#a3a3a3"/>
<path d="M464.61 378.50L469.41 373.70L474.21 378.50L469.41 383.30Z" fill="#a3a3a3"/>
<path d="M464.71 365.23L469.51 360.43L474.31 365.23L469.51 370.03Z" fill="#a3a3a3"/>
<rect x="489.84" y="375.40" width="6.2" height="6.2" fill="#fff"/>
<rect x="499.34" y="375.40" width="6.2" height="6.2" fill="#fff"/>
<rect x="495.04" y="375.40" width="6.2" height="6.2" fill="#fff"/>
<rect x="497.64" y="375.40" width="6.2" height="6.2" fill="#fff"/>
<rect x="492.44" y="368.76" width="6.2" height="6.2" fill="#fff"/>
<rect x="495.64" y="368.76" width="6.2" height="6.2" fill="#fff"/>
<rect x="489.84" y="362.13" width="6.2" height="6.2" fill="#fff"/>
<rect x="494.64" y="362.13" width="6.2" height="6.2" fill="#fff"/>
</g>
<line x1="313.60" y1="540.50" x2="510.40" y2="540.50" stroke="#000" stroke-width="1.25" stroke-dasharray="4.30 2.31"/>
<line x1="313.60" y1="507.50" x2="510.40" y2="507.50" stroke="#000" stroke-width="1.25" stroke-dasharray="4.30 2.31"/>
<line x1="313.60" y1="474.50" x2="510.40" y2="474.50" stroke="#000" stroke-width="1.25" stroke-dasharray="4.30 2.31"/>
<path d="M313.60 573.50L313.60 440.80L511.90 440.80L511.90 573.50Z" fill="none" stroke="#000" stroke-width="1.8"/>
<line x1="309.30" y1="573.50" x2="313.60" y2="573.50" stroke="#000" stroke-width="1.5"/>
<text x="308.00" y="578.45" text-anchor="end" font-size="11.9">0</text>
<line x1="309.30" y1="540.50" x2="313.60" y2="540.50" stroke="#000" stroke-width="1.5"/>
<text x="308.00" y="545.45" text-anchor="end" font-size="11.9">5</text>
<line x1="309.30" y1="507.50" x2="313.60" y2="507.50" stroke="#000" stroke-width="1.5"/>
<text x="308.00" y="512.45" text-anchor="end" font-size="11.9">10</text>
<line x1="309.30" y1="474.50" x2="313.60" y2="474.50" stroke="#000" stroke-width="1.5"/>
<text x="308.00" y="479.45" text-anchor="end" font-size="11.9">15</text>
<line x1="309.30" y1="440.80" x2="313.60" y2="440.80" stroke="#000" stroke-width="1.5"/>
<text x="308.00" y="445.75" text-anchor="end" font-size="11.9">20</text>
<line x1="327.76" y1="573.50" x2="327.76" y2="578.00" stroke="#000" stroke-width="1.5"/>
<text transform="translate(332.11 580.80) rotate(-90)" text-anchor="end" font-size="12.6" stroke="#000" stroke-width="0.25">IgG1</text>
<line x1="356.09" y1="573.50" x2="356.09" y2="578.00" stroke="#000" stroke-width="1.5"/>
<text transform="translate(360.44 580.80) rotate(-90)" text-anchor="end" font-size="12.6" stroke="#000" stroke-width="0.25">IgG2a</text>
<line x1="384.42" y1="573.50" x2="384.42" y2="578.00" stroke="#000" stroke-width="1.5"/>
<text transform="translate(388.77 580.80) rotate(-90)" text-anchor="end" font-size="12.6" stroke="#000" stroke-width="0.25">IgG2b</text>
<line x1="412.75" y1="573.50" x2="412.75" y2="578.00" stroke="#000" stroke-width="1.5"/>
<text transform="translate(417.10 580.80) rotate(-90)" text-anchor="end" font-size="12.6" stroke="#000" stroke-width="0.25">IgG2c</text>
<line x1="441.08" y1="573.50" x2="441.08" y2="578.00" stroke="#000" stroke-width="1.5"/>
<text transform="translate(445.43 580.80) rotate(-90)" text-anchor="end" font-size="12.6" stroke="#000" stroke-width="0.25">IgG3</text>
<line x1="469.41" y1="573.50" x2="469.41" y2="578.00" stroke="#000" stroke-width="1.5"/>
<text transform="translate(473.75 580.80) rotate(-90)" text-anchor="end" font-size="12.6" stroke="#000" stroke-width="0.25">IgA</text>
<line x1="497.74" y1="573.50" x2="497.74" y2="578.00" stroke="#000" stroke-width="1.5"/>
<text transform="translate(502.08 580.80) rotate(-90)" text-anchor="end" font-size="12.6" stroke="#000" stroke-width="0.25">IgM</text>
<text x="317.60" y="454.40" font-size="12.0">n=9</text>
<text x="510.20" y="454.00" text-anchor="end" font-size="11.3">mFVIII2</text>
<text transform="translate(274.60 427.50) scale(1.0 1)" font-size="19.3">F</text>
<g stroke="#000" stroke-width="1.45" stroke-linejoin="miter">
<circle cx="327.26" cy="500.51" r="3.85" fill="#fff"/>
<circle cx="333.86" cy="500.51" r="3.85" fill="#fff"/>
<circle cx="321.16" cy="493.88" r="3.85" fill="#fff"/>
<circle cx="332.46" cy="493.88" r="3.85" fill="#fff"/>
<circle cx="323.96" cy="493.88" r="3.85" fill="#fff"/>
<circle cx="329.96" cy="493.88" r="3.85" fill="#fff"/>
<circle cx="327.26" cy="493.88" r="3.85" fill="#fff"/>
<circle cx="321.16" cy="487.25" r="3.85" fill="#fff"/>
<circle cx="327.26" cy="487.25" r="3.85" fill="#fff"/>
<circle cx="355.79" cy="513.78" r="3.85" fill="#a3a3a3"/>
<circle cx="362.39" cy="513.78" r="3.85" fill="#a3a3a3"/>
<circle cx="349.39" cy="507.15" r="3.85" fill="#a3a3a3"/>
<circle cx="352.89" cy="507.15" r="3.85" fill="#a3a3a3"/>
<circle cx="359.29" cy="507.15" r="3.85" fill="#a3a3a3"/>
<circle cx="349.39" cy="500.51" r="3.85" fill="#a3a3a3"/>
<circle cx="355.79" cy="500.51" r="3.85" fill="#a3a3a3"/>
<circle cx="362.39" cy="500.51" r="3.85" fill="#a3a3a3"/>
<circle cx="352.89" cy="493.88" r="3.85" fill="#a3a3a3"/>
<path d="M380.92 577.10L384.42 570.60L387.92 577.10Z" fill="#fff"/>
<path d="M380.92 530.65L384.42 524.15L387.92 530.65Z" fill="#fff"/>
<path d="M381.02 524.02L384.52 517.52L388.02 524.02Z" fill="#fff"/>
<path d="M374.82 524.02L378.32 517.52L381.82 524.02Z" fill="#fff"/>
<path d="M387.12 524.02L390.62 517.52L394.12 524.02Z" fill="#fff"/>
<path d="M374.82 517.38L378.32 510.88L381.82 517.38Z" fill="#fff"/>
<path d="M381.02 517.38L384.52 510.88L388.02 517.38Z" fill="#fff"/>
<path d="M384.02 517.38L387.52 510.88L391.02 517.38Z" fill="#fff"/>
<path d="M387.12 517.38L390.62 510.88L394.12 517.38Z" fill="#fff"/>
<path d="M403.45 569.90L406.95 576.40L410.45 569.90Z" fill="#a3a3a3"/>
<path d="M415.05 569.90L418.55 576.40L422.05 569.90Z" fill="#a3a3a3"/>
<path d="M411.18 569.90L414.68 576.40L418.18 569.90Z" fill="#a3a3a3"/>
<path d="M407.32 569.90L410.82 576.40L414.32 569.90Z" fill="#a3a3a3"/>
<path d="M408.75 530.09L412.25 536.59L415.75 530.09Z" fill="#a3a3a3"/>
<path d="M402.75 523.45L406.25 529.95L409.75 523.45Z" fill="#a3a3a3"/>
<path d="M405.95 523.45L409.45 529.95L412.95 523.45Z" fill="#a3a3a3"/>
<path d="M415.05 523.45L418.55 529.95L422.05 523.45Z" fill="#a3a3a3"/>
<path d="M408.75 516.82L412.25 523.32L415.75 516.82Z" fill="#a3a3a3"/>
<path d="M431.38 573.50L436.18 568.70L440.98 573.50L436.18 578.30Z" fill="#fff"/>
<path d="M434.68 573.50L439.48 568.70L444.28 573.50L439.48 578.30Z" fill="#fff"/>
<path d="M438.48 573.50L443.28 568.70L448.08 573.50L443.28 578.30Z" fill="#fff"/>
<path d="M441.98 573.50L446.78 568.70L451.58 573.50L446.78 578.30Z" fill="#fff"/>
<path d="M433.68 566.87L438.48 562.07L443.28 566.87L438.48 571.66Z" fill="#fff"/>
<path d="M436.68 566.87L441.48 562.07L446.28 566.87L441.48 571.66Z" fill="#fff"/>
<path d="M436.08 540.33L440.88 535.53L445.68 540.33L440.88 545.12Z" fill="#fff"/>
<path d="M458.81 573.50L463.61 568.70L468.41 573.50L463.61 578.30Z" fill="#a3a3a3"/>
<path d="M470.41 573.50L475.21 568.70L480.01 573.50L475.21 578.30Z" fill="#a3a3a3"/>
<path d="M461.61 573.50L466.41 568.70L471.21 573.50L466.41 578.30Z" fill="#a3a3a3"/>
<path d="M467.61 573.50L472.41 568.70L477.21 573.50L472.41 578.30Z" fill="#a3a3a3"/>
<path d="M463.31 573.50L468.11 568.70L472.91 573.50L468.11 578.30Z" fill="#a3a3a3"/>
<path d="M465.91 573.50L470.71 568.70L475.51 573.50L470.71 578.30Z" fill="#a3a3a3"/>
<path d="M464.61 573.50L469.41 568.70L474.21 573.50L469.41 578.30Z" fill="#a3a3a3"/>
<path d="M463.51 566.87L468.31 562.07L473.11 566.87L468.31 571.66Z" fill="#a3a3a3"/>
<path d="M464.81 566.87L469.61 562.07L474.41 566.87L469.61 571.66Z" fill="#a3a3a3"/>
<rect x="494.84" y="543.86" width="6.2" height="6.2" fill="#fff"/>
<rect x="489.84" y="537.23" width="6.2" height="6.2" fill="#fff"/>
<rect x="499.84" y="537.23" width="6.2" height="6.2" fill="#fff"/>
<rect x="497.04" y="537.23" width="6.2" height="6.2" fill="#fff"/>
<rect x="492.54" y="537.23" width="6.2" height="6.2" fill="#fff"/>
<rect x="489.84" y="530.59" width="6.2" height="6.2" fill="#fff"/>
<rect x="499.84" y="530.59" width="6.2" height="6.2" fill="#fff"/>
<rect x="494.84" y="530.59" width="6.2" height="6.2" fill="#fff"/>
<rect x="492.44" y="523.95" width="6.2" height="6.2" fill="#fff"/>
</g>
</svg>
</body></html>
